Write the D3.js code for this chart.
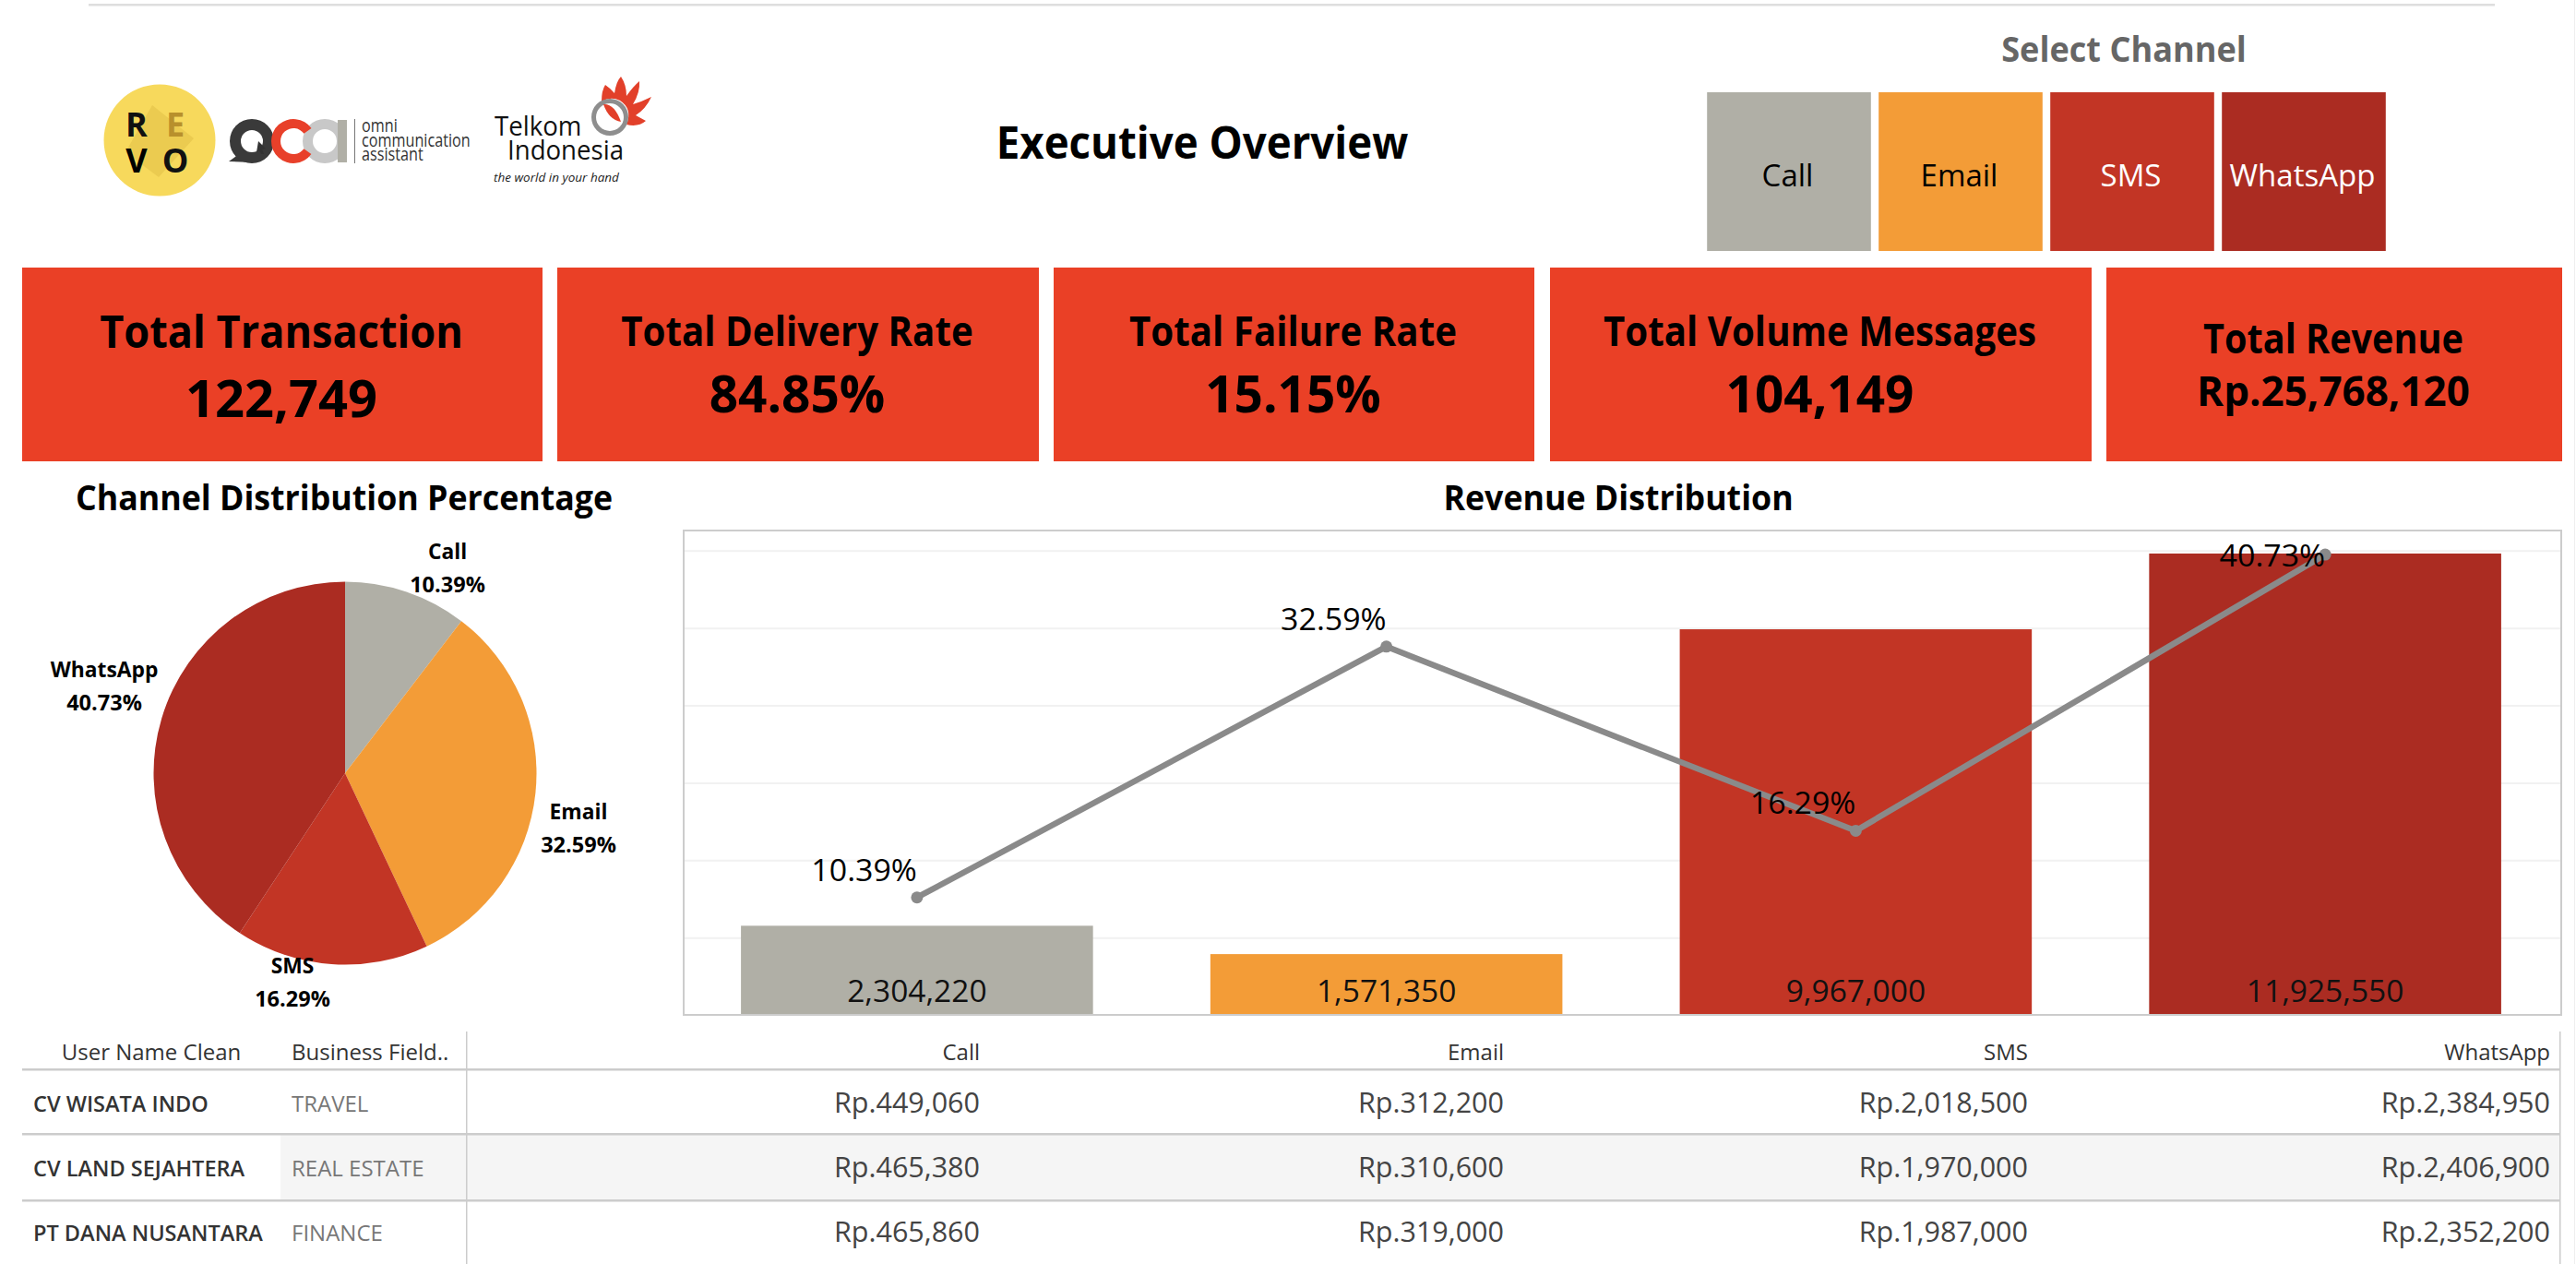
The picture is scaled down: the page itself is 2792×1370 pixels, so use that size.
<!DOCTYPE html>
<html>
<head>
<meta charset="utf-8">
<title>Executive Overview</title>
<script src="https://cdnjs.cloudflare.com/ajax/libs/d3/7.8.5/d3.min.js"></script>
<style>
  html, body { margin: 0; padding: 0; background: #fff; }
  svg { display: block; font-family: "Open Sans", sans-serif; }
</style>
</head>
<body>
<svg id="board" width="2792" height="1370"></svg>
<script>
// Channel figures
const channels = ["Call", "Email", "SMS", "WhatsApp"];
const channelColors = ["#b0afa6", "#f39c37", "#c23525", "#ab2c22"];
const channelInk = ["#000", "#000", "#fff", "#fff"];
const revenue = [2304220, 1571350, 9967000, 11925550];
const share = [10.39, 32.59, 16.29, 40.73];

// Headline cards
const kpiTitles = ["Total Transaction", "Total Delivery Rate", "Total Failure Rate", "Total Volume Messages", "Total Revenue"];
const kpiValues = ["122,749", "84.85%", "15.15%", "104,149", "Rp.25,768,120"];

// Client table
const clients = ["CV WISATA INDO", "CV LAND SEJAHTERA", "PT DANA NUSANTARA"];
const businessFields = ["TRAVEL", "REAL ESTATE", "FINANCE"];
const callRevenue = [449060, 465380, 465860];
const emailRevenue = [312200, 310600, 319000];
const smsRevenue = [2018500, 1970000, 1987000];
const whatsappRevenue = [2384950, 2406900, 2352200];

const svg = d3.select("#board");
const fmt = d3.format(",");
const pct = d => d3.format(".2f")(d) + "%";
const label = (g, x, y, text, size, weight, fill, anchor = "middle") =>
  g.append("text").attr("x", x).attr("y", y).attr("font-size", size).attr("font-weight", weight)
    .attr("fill", fill).attr("text-anchor", anchor).text(text);
// Narrows a text horizontally while keeping its height
const condense = (sel, k) => sel
  .attr("textLength", sel.node().getComputedTextLength() * k)
  .attr("lengthAdjust", "spacingAndGlyphs");

// Page rules
svg.append("rect").attr("x", 96).attr("y", 4).attr("width", 2608).attr("height", 2.5).attr("fill", "#dedede");
svg.append("rect").attr("x", 2790).attr("y", 0).attr("width", 1).attr("height", 1370).attr("fill", "#eee");

// Logos
const logos = svg.append("g").attr("class", "logos");
const revo = logos.append("g");
revo.append("circle").attr("cx", 173).attr("cy", 152).attr("r", 60.5).attr("fill", "#f7d95c");
revo.append("path").attr("d", "M165 114 L210 150 L172 192 L136 165 Z").attr("fill", "#ebcb50");
[["R", 148, 148, "#111"], ["E", 190, 148, "#b8902c"], ["V", 148, 187, "#000"], ["O", 190, 187, "#111"]]
  .forEach(([t, x, y, c]) => label(revo, x, y, t, 36, 700, c));

const arc = d3.arc();
const ring = (g, cx, cy, r0, r1, a0, a1, fill) => g.append("path")
  .attr("transform", `translate(${cx},${cy})`)
  .attr("d", arc({ innerRadius: r0, outerRadius: r1, startAngle: a0, endAngle: a1 }))
  .attr("fill", fill);
const oca = logos.append("g");
oca.append("path").attr("d", "M248 175 L262 165 L274 176 Z").attr("fill", "#3a3a3a");
ring(oca, 273, 153, 12, 24, 0, 2 * Math.PI, "#3a3a3a");
ring(oca, 352, 153, 13, 24, 0, 2 * Math.PI, "#c8c8c8");
oca.append("rect").attr("x", 366).attr("y", 130).attr("width", 10).attr("height", 46).attr("fill", "#b0afa6");
ring(oca, 318, 153, 14, 24, 2.2, 2 * Math.PI + 0.95, "#e8402a");
oca.append("path").attr("d", "M280 153 L288 161 L284 162 L286 167 L283 167 L281 163 L278 165 Z").attr("fill", "#333");
oca.append("rect").attr("x", 384).attr("y", 129).attr("width", 1).attr("height", 48).attr("fill", "#777");
[["omni", 143], ["communication", 159], ["assistant", 174]]
  .forEach(([t, y]) => condense(label(oca, 392, y, t, 20, 400, "#333", "start"), 0.81));

const telkom = logos.append("g");
telkom.append("path").attr("fill", "#e2402a")
  .attr("d", "M652 110 Q652 98 656 92 Q662 96 666 101 Q668 88 673 83 Q679 92 679 104 Q686 94 693 88 Q694 100 686 113 Q696 110 706 105 Q700 118 689 125 L700 131 Q692 138 679 135 Q686 118 672 109 Q662 104 652 110 Z");
ring(telkom, 661, 127, 15, 20, 0, 2 * Math.PI, "#8e8e8e");
telkom.append("path").attr("fill", "#e2402a").attr("d", "M654 113 Q666 112 673 132 Q660 130 654 113 Z");
condense(label(telkom, 536, 147, "Telkom", 30, 400, "#111", "start"), 0.92);
condense(label(telkom, 550, 173, "Indonesia", 30, 400, "#111", "start"), 0.92);
label(telkom, 535, 197, "the world in your hand", 13.5, 400, "#222", "start").attr("font-style", "italic");

// Title
condense(label(svg, 1303, 172, "Executive Overview", 48, 700, "#000"), 0.95);

// Channel selector
const selector = svg.append("g").attr("class", "selector");
condense(label(selector, 2302, 67, "Select Channel", 38, 700, "#666"), 0.95);
const buttonX = d3.scaleBand().domain(channels).range([1846, 2590]).paddingInner(0.0452).paddingOuter(0.0226);
channels.forEach((c, i) => {
  const b = selector.append("g");
  b.append("rect").attr("x", buttonX(c)).attr("y", 100).attr("width", buttonX.bandwidth()).attr("height", 172).attr("fill", channelColors[i]);
  label(b, buttonX(c) + buttonX.bandwidth() / 2 - 1.5, 202, c, 33, 400, channelInk[i]);
});

// Headline cards
const cardEdges = [[24, 588], [604, 1126], [1142, 1663], [1680, 2267], [2283, 2777]];
const cardTitleStyle = [[377, 48, 0.94], [375, 44, 0.915], [375, 44, 0.915], [375, 44, 0.915], [383, 44, 0.9]];
const cardValueStyle = [[452, 56, 1.0], [447, 56, 0.98], [447, 56, 0.98], [447, 56, 0.98], [440, 44, 1]];
const cards = svg.append("g").attr("class", "cards");
kpiTitles.forEach((t, i) => {
  const [x0, x1] = cardEdges[i], c = (x0 + x1) / 2;
  cards.append("rect").attr("x", x0).attr("y", 290).attr("width", x1 - x0).attr("height", 210).attr("fill", "#ea4026");
  condense(label(cards, c - 1, cardTitleStyle[i][0], t, cardTitleStyle[i][1], 700, "#000"), cardTitleStyle[i][2]);
  condense(label(cards, c - 1, cardValueStyle[i][0], kpiValues[i], cardValueStyle[i][1], 700, "#000"), cardValueStyle[i][2]);
});

// Section headings
condense(label(svg, 373, 553, "Channel Distribution Percentage", 38, 700, "#000"), 0.94);
condense(label(svg, 1754, 553, "Revenue Distribution", 38, 700, "#000"), 0.94);

// Pie: clockwise from twelve o'clock in channel order
const pieG = svg.append("g").attr("transform", "translate(374,838)");
const pie = d3.pie().sort(null)(share);
const slice = d3.arc().innerRadius(0).outerRadius(207.5);
pieG.selectAll("path").data(pie).join("path").attr("d", slice).attr("fill", (d, i) => channelColors[i]);
const pieLabelAt = [[111, -232], [253, 50], [-57, 217], [-261, -104]];
channels.forEach((c, i) => {
  const [x, y] = pieLabelAt[i];
  condense(label(pieG, x, y, c, 24, 700, "#000"), 0.95);
  condense(label(pieG, x, y + 36, pct(share[i]), 24, 700, "#000"), 0.98);
});

// Combined bar and line panel
const frame = { left: 741, right: 2776, top: 575, bottom: 1100 };
const x = d3.scaleBand().domain(channels).range([frame.left - 1.5, frame.right - 1.5]).paddingInner(0.25).paddingOuter(0.125);
const yRevenue = d3.scaleLinear().domain([0, 12520000]).range([frame.bottom, frame.top]);
const yShare = d3.scaleLinear().domain([0, 42.86]).range([frame.bottom, frame.top]);
const combo = svg.append("g").attr("class", "combo");
const grid = combo.append("g").attr("transform", `translate(${frame.left},0)`)
  .call(d3.axisLeft(yRevenue).tickValues(d3.range(2000000, 12000001, 2000000))
    .tickSize(-(frame.right - frame.left)).tickFormat(""));
grid.select(".domain").remove();
grid.selectAll(".tick line").attr("stroke", "#f1f1f1").attr("stroke-width", 2);
combo.selectAll("rect.bar").data(revenue).join("rect").attr("class", "bar")
  .attr("x", (d, i) => x(channels[i])).attr("width", x.bandwidth())
  .attr("y", d => yRevenue(d)).attr("height", d => yRevenue(0) - yRevenue(d))
  .attr("fill", (d, i) => channelColors[i]);
combo.append("rect").attr("x", frame.left).attr("y", frame.top)
  .attr("width", frame.right - frame.left).attr("height", frame.bottom - frame.top)
  .attr("fill", "none").attr("stroke", "#ccc").attr("stroke-width", 2);
const cx = c => x(c) + x.bandwidth() / 2;
combo.append("path").datum(share)
  .attr("d", d3.line().x((d, i) => cx(channels[i])).y(d => yShare(d)))
  .attr("fill", "none").attr("stroke", "#8a8a8a").attr("stroke-width", 6.5);
combo.selectAll("circle").data(share).join("circle")
  .attr("cx", (d, i) => cx(channels[i])).attr("cy", d => yShare(d)).attr("r", 6.5).attr("fill", "#8a8a8a");
// The tallest point's label drops level with its marker to stay inside the frame
const shareLabelLift = [18, 18, 18, -13];
channels.forEach((c, i) => {
  const t = label(combo, cx(c), yShare(share[i]) - shareLabelLift[i], pct(share[i]), 32, 400, "#000", "end");
  condense(t, 1.06);
  label(combo, cx(c), 1086, fmt(revenue[i]), 33.5, 400, "#111");
});

// Client table
const table = svg.append("g").attr("class", "table");
const rowTop = [1160, 1230, 1302], rowText = [1206, 1276, 1346];
const tableRight = 2774;
table.append("rect").attr("x", 304).attr("y", rowTop[1]).attr("width", tableRight - 304).attr("height", 70).attr("fill", "#f5f5f5");
[1159, 1229, 1301].forEach(y => table.append("rect").attr("x", 24).attr("y", y - 1).attr("width", tableRight - 24).attr("height", 2.5).attr("fill", "#ccc"));
[505, tableRight].forEach(xv => table.append("rect").attr("x", xv).attr("y", 1118).attr("width", 1.5).attr("height", 252).attr("fill", "#ccc"));
label(table, 164, 1149, "User Name Clean", 24, 400, "#333");
label(table, 316, 1149, "Business Field..", 24, 400, "#333", "start");
const columnRight = [1062, 1630, 2198, 2764];
const columns = [callRevenue, emailRevenue, smsRevenue, whatsappRevenue];
channels.forEach((c, j) => {
  label(table, columnRight[j], 1149, c, 24, 400, "#333", "end");
  columns[j].forEach((v, i) => label(table, columnRight[j], rowText[i], "Rp." + fmt(v), 30.5, 400, "#444", "end"));
});
clients.forEach((c, i) => {
  condense(label(table, 36, rowText[i] - 1, c, 24, 600, "#333", "start"), 0.98);
  label(table, 316, rowText[i] - 1, businessFields[i], 24, 400, "#777", "start");
});
</script>
</body>
</html>
